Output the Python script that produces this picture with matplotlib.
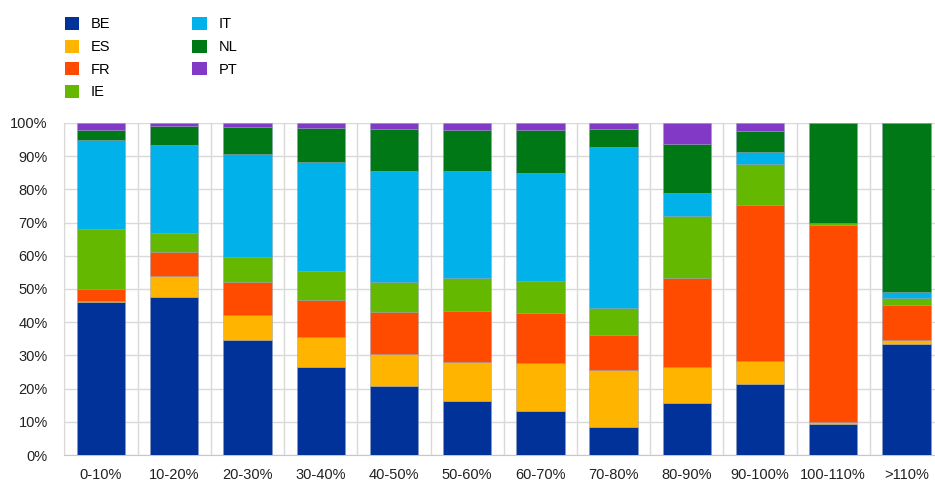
import matplotlib.pyplot as plt
import numpy as np
from matplotlib.patches import Patch

plt.rcParams['font.family'] = ['Liberation Sans', 'DejaVu Sans']

# categories on the x axis
categories = ['0-10%', '10-20%', '20-30%', '30-40%', '40-50%', '50-60%',
              '60-70%', '70-80%', '80-90%', '90-100%', '100-110%', '>110%']

# share of each country in every bucket (percent)
BE = [46.1, 47.7, 34.7, 26.6, 20.8, 16.2, 13.3, 8.5, 15.6, 21.3, 9.4, 33.5]
ES = [0.2, 6.2, 7.5, 8.8, 9.7, 11.7, 14.3, 17.0, 10.8, 7.1, 0.5, 1.2]
FR = [3.7, 7.1, 9.9, 11.4, 12.6, 15.5, 15.3, 10.7, 27.0, 47.0, 59.5, 10.6]
IE = [18.0, 5.8, 7.4, 8.6, 9.1, 10.0, 9.6, 8.0, 18.7, 12.1, 0.4, 2.0]
IT = [26.7, 26.4, 31.0, 32.9, 33.3, 32.1, 32.5, 48.5, 6.8, 3.6, 0.0, 1.9]
NL = [3.2, 5.8, 8.3, 10.3, 12.8, 12.3, 12.8, 5.4, 14.7, 6.4, 30.2, 50.7]
PT = [2.1, 1.0, 1.2, 1.4, 1.7, 2.2, 2.2, 1.9, 6.4, 2.5, 0.0, 0.1]

countries = ['BE', 'ES', 'FR', 'IE', 'IT', 'NL', 'PT']
series = [BE, ES, FR, IE, IT, NL, PT]
colors = ['#003299', '#FFB400', '#FF4B00', '#65B800', '#00B1EA', '#007816', '#8139C6']

fig = plt.figure(figsize=(9.35, 4.8), dpi=100)
ax = fig.add_axes([0.0689, 0.052, 0.9397, 0.692])

x = np.arange(len(categories))
bottom = np.zeros(len(categories))
for name, vals, col in zip(countries, series, colors):
    vals = np.array(vals)
    ax.bar(x, vals, 0.66, bottom=bottom, color=col,
           edgecolor=(0.55, 0.6, 0.7, 0.6), linewidth=0.5, zorder=3)
    bottom += vals

ax.set_xlim(-0.5, 11.5)
ax.set_ylim(0, 100)
ax.set_yticks(np.arange(0, 101, 10))
ax.set_yticklabels([f'{v}%' for v in range(0, 101, 10)])
ax.set_xticks(x)
ax.set_xticklabels(categories)
ax.set_xticks(np.arange(-0.5, 12, 1), minor=True)

ax.grid(axis='y', color='#d9d9d9', linewidth=1, zorder=0)
ax.grid(axis='x', which='minor', color='#d9d9d9', linewidth=1, zorder=0)
ax.tick_params(which='both', length=0)
ax.tick_params(axis='y', pad=12, labelsize=10.5, colors='#222222')
ax.tick_params(axis='x', pad=9, labelsize=10.5, colors='#222222')

for s in ['top', 'right']:
    ax.spines[s].set_visible(False)
ax.spines['left'].set_color('#d9d9d9')
ax.spines['bottom'].set_color('#c8c8c8')

handles = [Patch(facecolor=c, label=n) for n, c in zip(countries, colors)]
fig.legend(handles=handles, ncol=2, loc='upper left',
           bbox_to_anchor=(0.055, 0.992), frameon=False, fontsize=10.5,
           handlelength=1.0, handleheight=1.0, handletextpad=0.8,
           labelspacing=0.55, columnspacing=5.6)

fig.savefig('out.png', dpi=100)
